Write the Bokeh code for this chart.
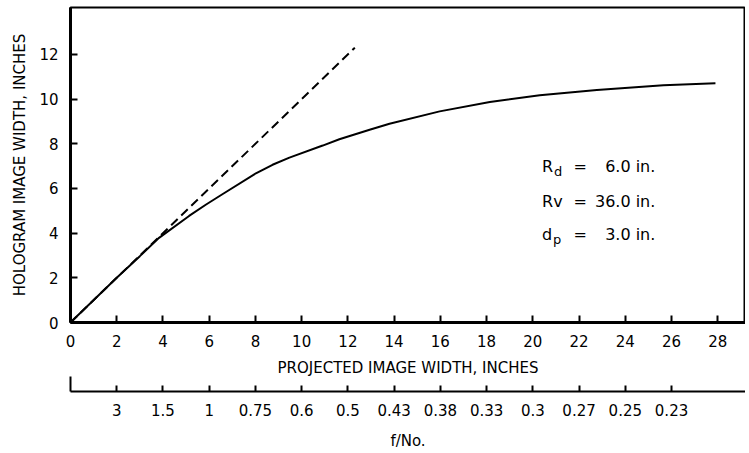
from bokeh.plotting import figure
from bokeh.models import LinearAxis, FixedTicker, Label, Range1d
from bokeh.embed import file_html
from bokeh.resources import INLINE

# ---- data ----
projected_width = [0, 2, 3, 3.83, 5.13, 5.85, 6.57, 8.02, 8.74, 9.47, 10.91, 11.63, 12.94, 13.8,
                   15.97, 18.14, 20.3, 22.77, 25.65, 27.9]
hologram_width = [0, 2, 2.97, 3.79, 4.77, 5.27, 5.74, 6.68, 7.06, 7.38, 7.92, 8.2, 8.63, 8.9,
                  9.45, 9.87, 10.17, 10.41, 10.62, 10.71]
ideal_x = [0, 12.3]
ideal_y = [0, 12.3]
x_ticks = [0, 2, 4, 6, 8, 10, 12, 14, 16, 18, 20, 22, 24, 26, 28]
y_ticks = [0, 2, 4, 6, 8, 10, 12]
fno_ticks = [2, 4, 6, 8, 10, 12, 14, 16, 18, 20, 22, 24, 26]
fno_labels = ["3", "1.5", "1", "0.75", "0.6", "0.5", "0.43", "0.38", "0.33", "0.3", "0.27", "0.25", "0.23"]
param_names = ["R", "Rv", "d"]
param_subs = ["d", "", "p"]
param_values = ["6.0 in.", "36.0 in.", "3.0 in."]
param_rows_y = [7.0, 5.4, 3.92]

FONT = "DejaVu Sans"
INK = "black"

p = figure(width=745, height=452, x_range=Range1d(0, 29.2), y_range=Range1d(0, 14.1),
           output_backend="svg", toolbar_location=None,
           min_border_left=70, min_border_right=0, min_border_top=7, min_border_bottom=0)
p.grid.visible = False
p.outline_line_color = INK
p.outline_line_width = 2
p.background_fill_color = "white"
p.border_fill_color = "white"

p.line(projected_width, hologram_width, line_color=INK, line_width=2)
p.line(ideal_x, ideal_y, line_color=INK, line_width=2, line_dash="9 5")

# main x axis
xa = p.xaxis[0]
xa.ticker = FixedTicker(ticks=x_ticks)
xa.major_tick_in = 7
xa.major_tick_out = 0
xa.minor_tick_in = 0
xa.minor_tick_out = 0
xa.axis_line_width = 3
xa.axis_line_color = INK
xa.major_tick_line_width = 2
xa.major_tick_line_color = INK
xa.major_label_standoff = 12
xa.major_label_text_font = FONT
xa.major_label_text_font_size = "15px"
xa.major_label_text_color = INK
xa.axis_label = "PROJECTED IMAGE WIDTH, INCHES"
xa.axis_label_standoff = 9
xa.axis_label_text_font = FONT
xa.axis_label_text_font_size = "15px"
xa.axis_label_text_font_style = "normal"
xa.axis_label_text_color = INK

# y axis
ya = p.yaxis[0]
ya.ticker = FixedTicker(ticks=y_ticks)
ya.major_tick_in = 7
ya.major_tick_out = 0
ya.minor_tick_in = 0
ya.minor_tick_out = 0
ya.axis_line_width = 3
ya.axis_line_color = INK
ya.major_tick_line_width = 2
ya.major_tick_line_color = INK
ya.major_label_standoff = 12
ya.major_label_text_font = FONT
ya.major_label_text_font_size = "15px"
ya.major_label_text_color = INK
ya.axis_label = "HOLOGRAM IMAGE WIDTH, INCHES"
ya.axis_label_standoff = 7
ya.axis_label_text_font = FONT
ya.axis_label_text_font_size = "15px"
ya.axis_label_text_font_style = "normal"
ya.axis_label_text_color = INK

# spacer between the two bottom scales
spacer = LinearAxis(ticker=FixedTicker(ticks=[1]), major_label_overrides={1: ""},
                    axis_line_color=None, major_tick_line_color=None, minor_tick_line_color=None,
                    major_tick_in=0, major_tick_out=12, minor_tick_in=0, minor_tick_out=0,
                    major_label_standoff=0, major_label_text_font_size="1px")
p.add_layout(spacer, "below")

# f/No. scale
fno_axis = LinearAxis(ticker=FixedTicker(ticks=fno_ticks, minor_ticks=[0]),
                      major_label_overrides={t: l for t, l in zip(fno_ticks, fno_labels)},
                      major_tick_in=6, major_tick_out=0, minor_tick_in=15, minor_tick_out=0,
                      axis_line_width=2, axis_line_color=INK,
                      major_tick_line_width=2, major_tick_line_color=INK,
                      minor_tick_line_width=2, minor_tick_line_color=INK,
                      major_label_standoff=12, major_label_text_font=FONT,
                      major_label_text_font_size="15px", major_label_text_color=INK,
                      axis_label="f/No.", axis_label_standoff=13,
                      axis_label_text_font=FONT, axis_label_text_font_size="15px",
                      axis_label_text_font_style="normal", axis_label_text_color=INK)
p.add_layout(fno_axis, "below")

# parameter annotations
for name, sub, val, yy in zip(param_names, param_subs, param_values, param_rows_y):
    p.add_layout(Label(x=20.4, y=yy, text=name, text_font=FONT, text_font_size="16px",
                       text_color=INK, text_baseline="middle", text_align="left"))
    if sub:
        offset = 12 if name == "R" else 11
        p.add_layout(Label(x=20.4, y=yy, x_offset=offset, y_offset=-5, text=sub, text_font=FONT,
                           text_font_size="13px", text_color=INK,
                           text_baseline="middle", text_align="left"))
    p.add_layout(Label(x=22.05, y=yy, text="=", text_font=FONT, text_font_size="16px",
                       text_color=INK, text_baseline="middle", text_align="center"))
    p.add_layout(Label(x=25.3, y=yy, text=val, text_font=FONT, text_font_size="16px",
                       text_color=INK, text_baseline="middle", text_align="right"))

open("out.html", "w").write(file_html(p, INLINE))
